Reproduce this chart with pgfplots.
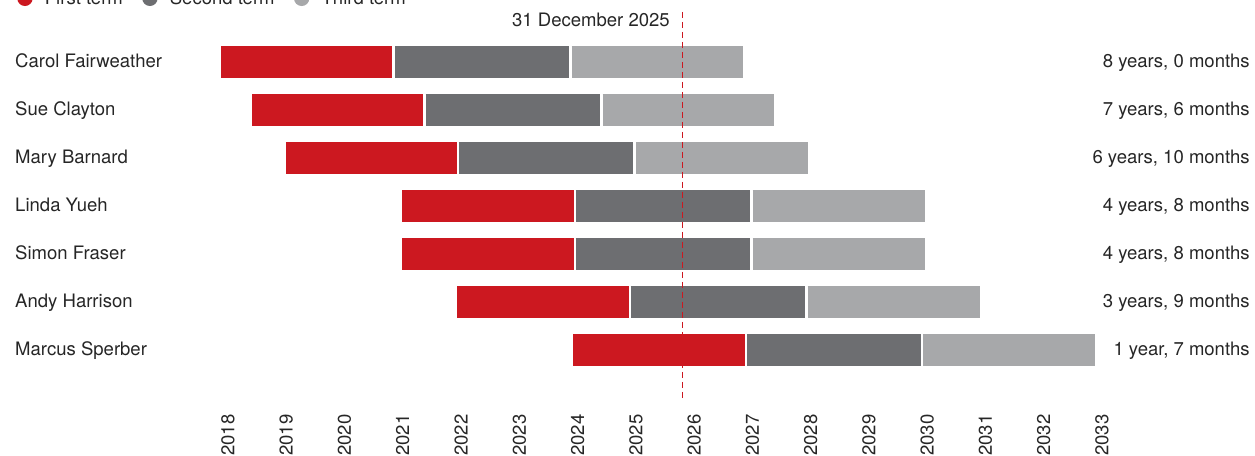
\documentclass[border=0pt]{standalone}
\usepackage{fontspec}
\setmainfont{TeX Gyre Heros}
\usepackage{pgfplots}
\pgfplotsset{compat=1.18}
\definecolor{cRed}{RGB}{204,24,32}
\definecolor{cDark}{RGB}{109,110,113}
\definecolor{cLight}{RGB}{167,168,170}
\definecolor{cText}{RGB}{38,38,38}
\begin{document}
\begin{tikzpicture}[font=\fontsize{13.9pt}{16pt}\selectfont, text=cText]
\begin{axis}[name=ax, scale only axis, width=699.24pt, height=287.7pt,
  xmin=2017.5, xmax=2033.5, ymin=-1, ymax=7, y dir=reverse,
  axis line style={draw=none}, major tick length=0pt, ytick=\empty,
  xtick={2018,2019,2020,2021,2022,2023,2024,2025,2026,2027,2028,2029,2030,2031,2032,2033},
  xticklabels={2018,2019,2020,2021,2022,2023,2024,2025,2026,2027,2028,2029,2030,2031,2032,2033},
  xticklabel style={rotate=90, anchor=east, inner sep=0pt, text=cText, font=\fontsize{13.9pt}{16pt}\selectfont},
  xticklabel shift=12.5pt,
  /pgf/number format/assume math mode=true,
  clip=false, unbounded coords=jump,
  legend columns=3, legend cell align=left,
  legend style={draw=none, fill=none, at={(axis cs:2014.3835,-1.33)}, anchor=west,
    inner sep=0pt, outer sep=0pt, nodes={inner sep=0pt, text=cText},
    /tikz/every odd column/.append style={column sep=9.2pt},
    /tikz/every even column/.append style={column sep=14.5pt}},
]
\addplot[cRed, line width=24pt, line cap=butt, mark=none,
  legend image code/.code={\path[fill=cRed, draw=none, line width=0pt] (5.77pt,0pt) circle (5.77pt);}]
  coordinates {
  (2017.880,0) (2020.820,0) (nan,nan)
  (2018.417,1) (2021.346,1) (nan,nan)
  (2018.995,2) (2021.930,2) (nan,nan)
  (2020.991,3) (2023.933,3) (nan,nan)
  (2020.991,4) (2023.933,4) (nan,nan)
  (2021.935,5) (2024.877,5) (nan,nan)
  (2023.921,6) (2026.867,6)
  };
\addlegendentry{First term}
\addplot[cDark, line width=24pt, line cap=butt, mark=none,
  legend image code/.code={\path[fill=cDark, draw=none, line width=0pt] (5.77pt,0pt) circle (5.77pt);}]
  coordinates {
  (2020.871,0) (2023.852,0) (nan,nan)
  (2021.393,1) (2024.379,1) (nan,nan)
  (2021.964,2) (2024.950,2) (nan,nan)
  (2023.967,3) (2026.953,3) (nan,nan)
  (2023.967,4) (2026.953,4) (nan,nan)
  (2024.911,5) (2027.897,5) (nan,nan)
  (2026.912,6) (2029.893,6)
  };
\addlegendentry{Second term}
\addplot[cLight, line width=24pt, line cap=butt, mark=none,
  legend image code/.code={\path[fill=cLight, draw=none, line width=0pt] (5.77pt,0pt) circle (5.77pt);}]
  coordinates {
  (2023.898,0) (2026.843,0) (nan,nan)
  (2024.430,1) (2027.375,1) (nan,nan)
  (2025.007,2) (2027.959,2) (nan,nan)
  (2027.005,3) (2029.962,3) (nan,nan)
  (2027.005,4) (2029.962,4) (nan,nan)
  (2027.949,5) (2030.905,5) (nan,nan)
  (2029.927,6) (2032.879,6)
  };
\addlegendentry{Third term}
\addplot[cRed, line width=1.25pt, dash pattern=on 4.5pt off 3pt, mark=none, forget plot]
  coordinates {(2025.797,-1.05) (2025.797,7.05)};
\node[anchor=base east, inner sep=0pt] at (axis cs:2025.586,-0.738) {31 December 2025};
\node[anchor=base west, inner sep=0pt] at (axis cs:2014.344,0.11) {Carol Fairweather};
\node[anchor=base west, inner sep=0pt] at (axis cs:2014.344,1.11) {Sue Clayton};
\node[anchor=base west, inner sep=0pt] at (axis cs:2014.344,2.11) {Mary Barnard};
\node[anchor=base west, inner sep=0pt] at (axis cs:2014.344,3.11) {Linda Yueh};
\node[anchor=base west, inner sep=0pt] at (axis cs:2014.344,4.11) {Simon Fraser};
\node[anchor=base west, inner sep=0pt] at (axis cs:2014.344,5.11) {Andy Harrison};
\node[anchor=base west, inner sep=0pt] at (axis cs:2014.344,6.11) {Marcus Sperber};
\node[anchor=base east, inner sep=0pt] at (axis cs:2035.538,0.115) {8 years, 0 months};
\node[anchor=base east, inner sep=0pt] at (axis cs:2035.538,1.115) {7 years, 6 months};
\node[anchor=base east, inner sep=0pt] at (axis cs:2035.538,2.115) {6 years, 10 months};
\node[anchor=base east, inner sep=0pt] at (axis cs:2035.538,3.115) {4 years, 8 months};
\node[anchor=base east, inner sep=0pt] at (axis cs:2035.538,4.115) {4 years, 8 months};
\node[anchor=base east, inner sep=0pt] at (axis cs:2035.538,5.115) {3 years, 9 months};
\node[anchor=base east, inner sep=0pt] at (axis cs:2035.538,6.115) {1 year, 7 months};
\end{axis}
\pgfresetboundingbox
\path[use as bounding box] ([xshift=-149.15pt,yshift=-43.69pt]ax.south west) rectangle ++(941.25pt,342pt);
\end{tikzpicture}
\end{document}
